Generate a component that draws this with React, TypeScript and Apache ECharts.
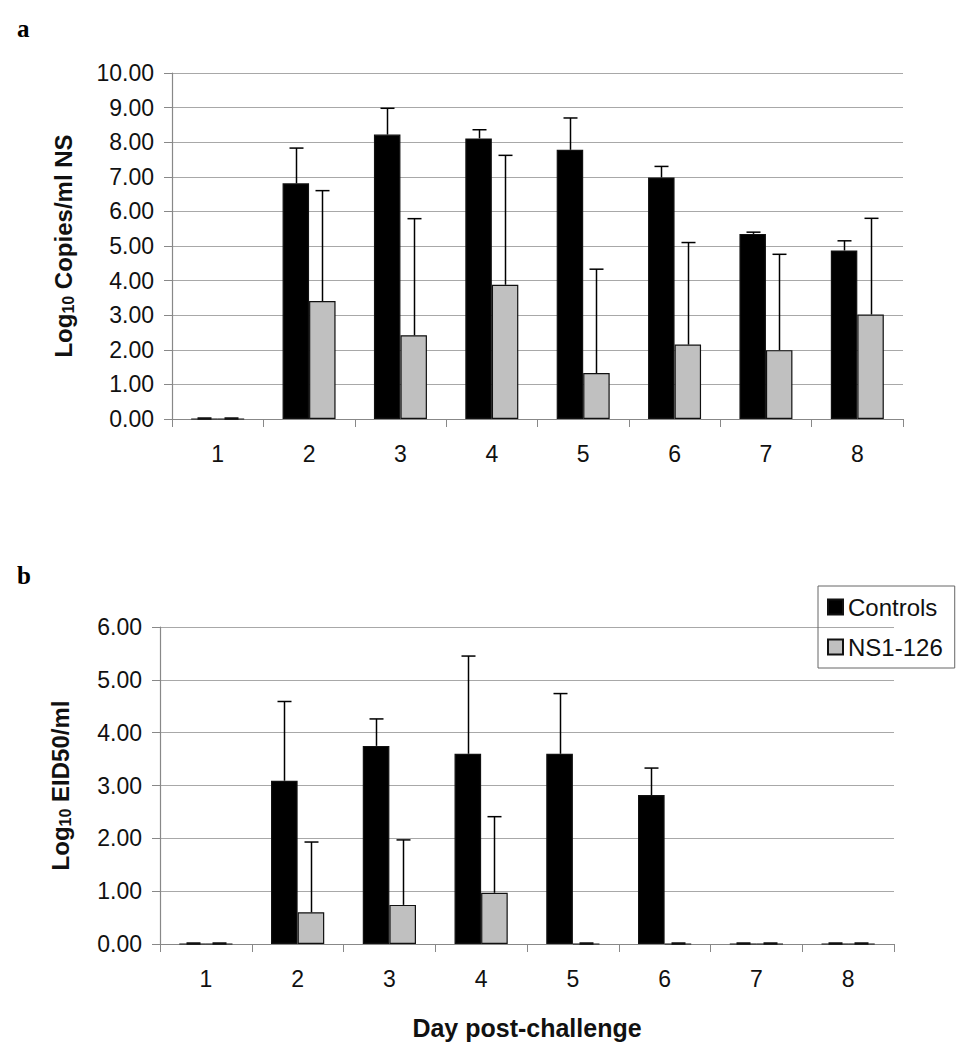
import React, { useEffect, useRef } from "react";
import * as echarts from "echarts";

const days = ["1", "2", "3", "4", "5", "6", "7", "8"];
const seriesNames = ["Controls", "NS1-126"];

// Panel a: Log10 copies/ml NS
const aControls = [0, 6.81, 8.22, 8.11, 7.78, 6.98, 5.35, 4.87];
const aControlsErr = [0, 7.83, 8.98, 8.36, 8.7, 7.3, 5.4, 5.15];
const aNS1 = [0, 3.41, 2.42, 3.88, 1.33, 2.15, 1.99, 3.02];
const aNS1Err = [0, 6.6, 5.79, 7.62, 4.33, 5.1, 4.76, 5.8];

// Panel b: Log10 EID50/ml
const bControls = [0, 3.09, 3.75, 3.6, 3.6, 2.82, 0, 0];
const bControlsErr = [0, 4.59, 4.26, 5.45, 4.74, 3.33, 0, 0];
const bNS1 = [0, 0.6, 0.74, 0.97, 0, 0, 0, 0];
const bNS1Err = [0, 1.93, 1.97, 2.41, 0, 0, 0, 0];

const FONT = "Arial, 'Liberation Sans', sans-serif";
const BAR_FRAC = 0.29;

function errSeries(name: string, vals: number[], errs: number[], side: number, axisIdx: number) {
  return {
    type: "custom",
    name: name + "-err",
    xAxisIndex: axisIdx,
    yAxisIndex: axisIdx,
    z: 5,
    silent: true,
    data: vals.map((v, i) => [i, v, errs[i]]),
    encode: { x: 0, y: 2 },
    renderItem: (params: any, api: any) => {
      const i = api.value(0);
      const v = api.value(1);
      const e = api.value(2);
      const cw = api.size([1, 0])[0];
      const off = (side * cw * BAR_FRAC) / 2;
      const p0 = api.coord([i, v]);
      const p1 = api.coord([i, Math.max(e, v)]);
      const x = Math.round(p0[0] + off) + 0.5;
      const style = { stroke: "#000", lineWidth: 1.5 };
      const children: any[] = [];
      if (e > v) {
        children.push({ type: "line", shape: { x1: x, y1: p0[1], x2: x, y2: p1[1] }, style });
        children.push({ type: "line", shape: { x1: x - 7, y1: p1[1], x2: x + 7, y2: p1[1] }, style });
      } else {
        const y = p1[1] - 0.5;
        children.push({
          type: "line",
          shape: { x1: x - 7, y1: y, x2: x + 7, y2: y },
          style: { stroke: "#111", lineWidth: 2.5 },
        });
      }
      return { type: "group", children };
    },
  };
}

function barSeries(name: string, vals: number[], color: string, axisIdx: number) {
  return {
    type: "bar",
    name,
    xAxisIndex: axisIdx,
    yAxisIndex: axisIdx,
    data: vals,
    barWidth: Math.round(BAR_FRAC * 100) + "%",
    barGap: "0%",
    itemStyle: { color, borderColor: "#111", borderWidth: 1.2 },
  };
}

export default function App() {
  const ref = useRef<HTMLDivElement>(null);
  useEffect(() => {
    document.body.style.margin = "0";
    const chart = echarts.init(ref.current!, null, { renderer: "svg" });
    const yAxisCommon = {
      type: "value",
      axisLine: { show: true, lineStyle: { color: "#888", width: 1.2 } },
      axisTick: { show: true, length: 8, lineStyle: { color: "#888" } },
      splitLine: { show: true, lineStyle: { color: "#a8a8a8", width: 1.2 } },
      axisLabel: {
        fontSize: 23,
        color: "#111",
        fontFamily: FONT,
        margin: 18,
        formatter: (v: number) => v.toFixed(2),
      },
      nameLocation: "middle",
      nameRotate: 90,
    };
    const xAxisCommon = {
      type: "category",
      data: days,
      axisLine: { show: true, lineStyle: { color: "#888", width: 1.2 } },
      axisTick: { show: true, length: 8, lineStyle: { color: "#888" } },
      axisLabel: { fontSize: 23, color: "#111", fontFamily: FONT, margin: 23 },
    };
    const nameRich = {
      a: { fontSize: 24, fontWeight: "bold", fontFamily: FONT, color: "#111" },
      s: { fontSize: 16, fontWeight: "bold", fontFamily: FONT, color: "#111", verticalAlign: "bottom", padding: [9, 0, 0, 0] },
    };
    chart.setOption({
      animation: false,
      backgroundColor: "#fff",
      grid: [
        { left: 172, right: 57, top: 73, height: 346 },
        { left: 160, right: 66, top: 627, height: 317 },
      ],
      xAxis: [
        { ...xAxisCommon, gridIndex: 0 },
        {
          ...xAxisCommon,
          gridIndex: 1,
          name: "Day post-challenge",
          nameLocation: "middle",
          nameGap: 71,
          nameTextStyle: { fontSize: 25, fontWeight: "bold", fontFamily: FONT, color: "#111" },
        },
      ],
      yAxis: [
        {
          ...yAxisCommon,
          gridIndex: 0,
          min: 0,
          max: 10,
          interval: 1,
          name: "{a|Log}{s|10}{a| Copies/ml NS}",
          nameGap: 96,
          nameTextStyle: { rich: nameRich },
        },
        {
          ...yAxisCommon,
          gridIndex: 1,
          min: 0,
          max: 6,
          interval: 1,
          name: "{a|Log}{s|10}{a| EID50/ml}",
          nameGap: 87,
          nameTextStyle: { rich: nameRich },
        },
      ],
      legend: {
        data: seriesNames,
        orient: "vertical",
        left: 818,
        top: 586,
        itemWidth: 15,
        itemHeight: 15,
        itemGap: 16,
        padding: [9, 12, 9, 9],
        borderColor: "#666",
        borderWidth: 1,
        icon: "rect",
        textStyle: { fontSize: 24, fontFamily: FONT, color: "#111" },
      },
      graphic: [
        { type: "text", left: 17, top: 16, style: { text: "a", font: "bold 25px 'Liberation Serif', 'Times New Roman', serif", fill: "#000" } },
        { type: "text", left: 17, top: 563, style: { text: "b", font: "bold 25px 'Liberation Serif', 'Times New Roman', serif", fill: "#000" } },
      ],
      series: [
        barSeries(seriesNames[0], aControls, "#000", 0),
        barSeries(seriesNames[1], aNS1, "#c0c0c0", 0),
        errSeries(seriesNames[0], aControls, aControlsErr, -1, 0),
        errSeries(seriesNames[1], aNS1, aNS1Err, 1, 0),
        barSeries(seriesNames[0], bControls, "#000", 1),
        barSeries(seriesNames[1], bNS1, "#c0c0c0", 1),
        errSeries(seriesNames[0], bControls, bControlsErr, -1, 1),
        errSeries(seriesNames[1], bNS1, bNS1Err, 1, 1),
      ],
    });
    return () => chart.dispose();
  }, []);
  return <div ref={ref} style={{ width: 960, height: 1050 }} />;
}
